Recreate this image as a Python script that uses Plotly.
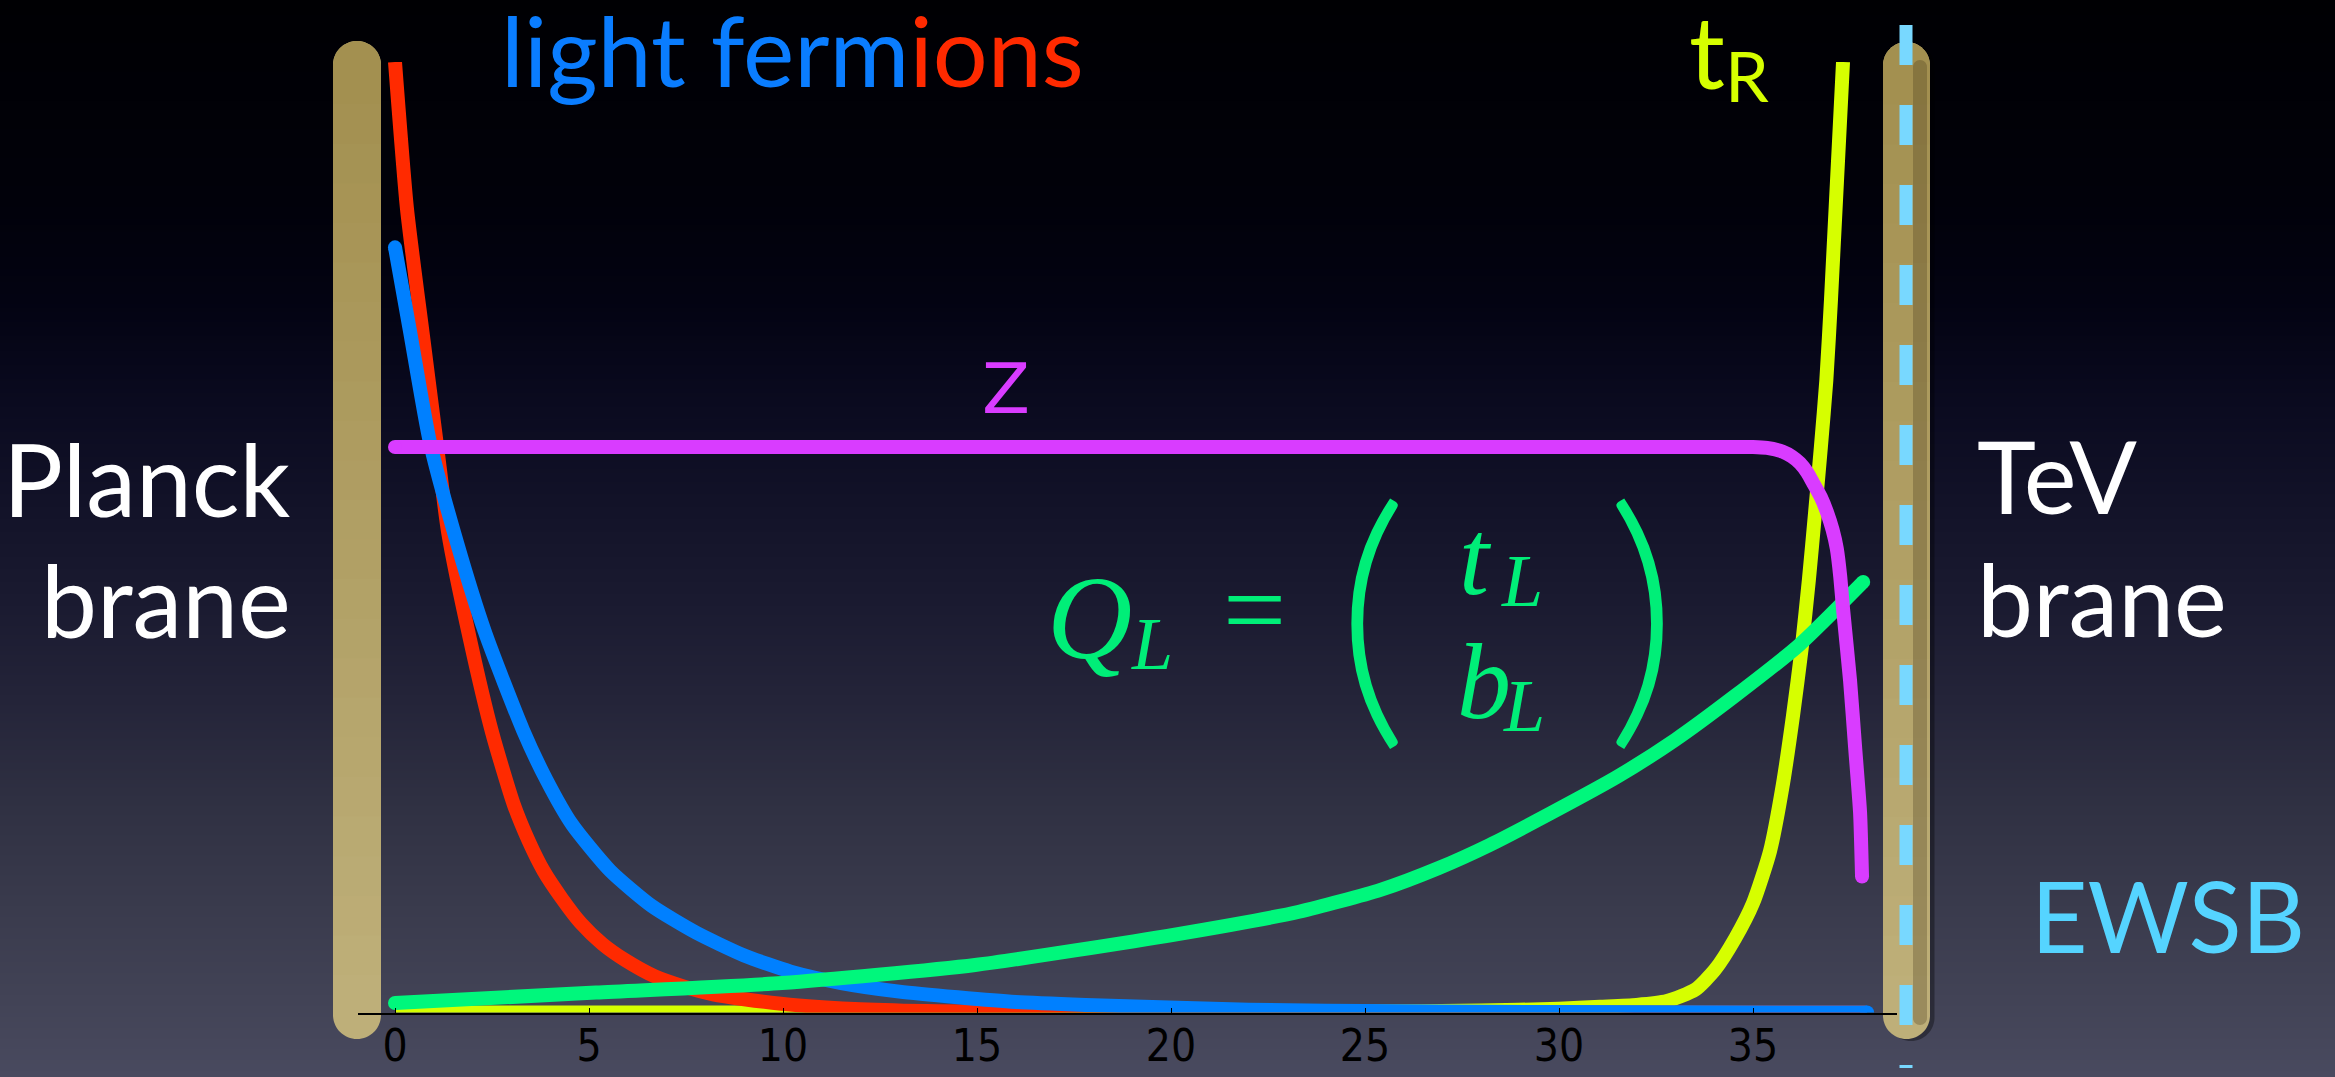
import base64
import struct
import zlib

import plotly.graph_objects as go

# ---------------------------------------------------------------------------
# Profiles along the extra dimension (x: position between the branes,
# y: normalised profile height; the plot range clips at 0 and 1)
# ---------------------------------------------------------------------------
TICKS = [0, 5, 10, 15, 20, 25, 30, 35]

red_x = [0.0, 0.31, 0.72, 1.08, 1.37, 1.93, 2.50, 3.06, 3.45, 3.83, 4.30, 4.79, 5.35, 5.94, 6.70, 7.47,
         8.20, 9.00, 10.4, 12.0, 14.0, 17.0, 22.0, 30.0, 37.9]
red_y = [1.0, 0.845, 0.712, 0.597, 0.505, 0.393, 0.295, 0.219, 0.180, 0.149, 0.120, 0.094, 0.072, 0.055, 0.038, 0.027,
         0.019, 0.014, 0.0075, 0.0035, 0.0013, 0.0003, 0.0, 0.0, 0.0]

blue_x = [0.0, 0.39, 0.90, 1.60, 2.32, 3.30, 3.90, 4.56, 5.55, 6.62, 7.76, 9.00, 10.2, 11.5, 13.0, 14.5, 16.0,
          17.8, 22.0, 26.0, 30.0, 37.94]
blue_y = [0.805, 0.716, 0.600, 0.494, 0.400, 0.297, 0.245, 0.198, 0.149, 0.112, 0.084, 0.060, 0.043, 0.031, 0.022,
          0.016, 0.011, 0.008, 0.003, 0.0012, 0.0004, 0.0]

green_x = [0.0, 5.18, 9.97, 14.95, 20.1, 23.3, 25.4, 26.9, 28.2, 29.8, 31.5, 33.0, 34.5, 36.2, 37.84]
green_y = [0.010, 0.021, 0.031, 0.050, 0.082, 0.106, 0.129, 0.152, 0.176, 0.210, 0.248, 0.287, 0.332, 0.387, 0.453]

yellow_x = [0.0, 10.0, 20.0, 25.0, 28.0, 30.0, 31.06, 32.0, 32.78, 33.51, 34.02, 34.54, 35.0, 35.44, 35.77,
            36.03, 36.26, 36.44, 36.60, 36.75, 36.89, 37.01, 37.32]
yellow_y = [0.0, 0.0, 0.0005, 0.001, 0.002, 0.004, 0.006, 0.008, 0.012, 0.024, 0.045, 0.078, 0.115, 0.170, 0.240,
            0.312, 0.385, 0.455, 0.526, 0.595, 0.665, 0.750, 1.0]

magenta_x = [0.0, 5.0, 10.0, 15.0, 20.0, 25.0, 30.0, 32.0, 33.5, 34.5, 35.0, 35.36, 35.77, 36.0, 36.21, 36.4,
             36.55, 36.75, 36.91, 37.05, 37.16, 37.25, 37.32, 37.50, 37.63, 37.76, 37.81]
magenta_y = [0.595, 0.595, 0.595, 0.595, 0.595, 0.595, 0.595, 0.595, 0.595, 0.595, 0.595, 0.594, 0.590, 0.585,
             0.578, 0.568, 0.557, 0.542, 0.526, 0.508, 0.488, 0.458, 0.425, 0.350, 0.280, 0.210, 0.143]

# ---------------------------------------------------------------------------
# Canvas geometry (pixels)
# ---------------------------------------------------------------------------
W, H = 2335, 1077
X0_PX, UNIT_PX = 395.0, 38.8          # pixel of x=0 and pixels per unit
AX_L, AX_R = 358.0, 1897.0            # horizontal extent of the axis
AX_BOTTOM, AX_TOP = 1012.5, 62.0      # y=0 and y=1 rows


def px(x):
    return x / W


def py(y):
    return 1.0 - y / H


RED = "#ff2a00"
BLUE = "#0080ff"
GREEN = "#00f77c"
YELLOW = "#d6ff00"
MAGENTA = "#d93cff"
SKY = "#78d8ff"
BRANE_TOP = (163, 144, 80)
BRANE_BOTTOM = (190, 175, 121)
LINE_W = 14

SANS = "Lato, 'Open Sans', 'DejaVu Sans', sans-serif"
SERIF = "'Liberation Serif', 'DejaVu Serif', serif"


# ---------------------------------------------------------------------------
# Background: dark vertical gradient rendered as a 1-pixel-wide PNG
# ---------------------------------------------------------------------------
def gradient_png(stops, height):
    rows = []
    for r in range(height):
        for (y0, c0), (y1, c1) in zip(stops[:-1], stops[1:]):
            if y0 <= r <= y1:
                t = (r - y0) / (y1 - y0)
                rows.append(bytes([0] + [int(round(a + (b - a) * t)) for a, b in zip(c0, c1)]))
                break
    raw = b"".join(rows)

    def chunk(tag, data):
        return struct.pack(">I", len(data)) + tag + data + struct.pack(">I", zlib.crc32(tag + data) & 0xFFFFFFFF)

    png = (b"\x89PNG\r\n\x1a\n"
           + chunk(b"IHDR", struct.pack(">IIBBBBB", 1, height, 8, 2, 0, 0, 0))
           + chunk(b"IDAT", zlib.compress(raw, 9))
           + chunk(b"IEND", b""))
    return "data:image/png;base64," + base64.b64encode(png).decode()


bg_stops = [(0, (0, 0, 3)), (200, (1, 1, 10)), (300, (3, 3, 18)), (400, (10, 10, 31)),
            (500, (18, 18, 40)), (600, (26, 26, 48)), (700, (36, 36, 57)), (800, (47, 48, 66)),
            (900, (57, 58, 76)), (1000, (66, 67, 86)), (H - 1, (73, 74, 95))]


# ---------------------------------------------------------------------------
# Figure
# ---------------------------------------------------------------------------
fig = go.Figure()


def profile(xs, ys, color, cap_start=True, cap_end=True, smoothing=0.6):
    fig.add_trace(go.Scatter(x=xs, y=ys, mode="lines", hoverinfo="skip",
                             line=dict(color=color, width=LINE_W, shape="spline", smoothing=smoothing)))
    ends_x, ends_y = [], []
    if cap_start:
        ends_x.append(xs[0]); ends_y.append(ys[0])
    if cap_end:
        ends_x.append(xs[-1]); ends_y.append(ys[-1])
    if ends_x:
        fig.add_trace(go.Scatter(x=ends_x, y=ends_y, mode="markers", hoverinfo="skip",
                                 marker=dict(color=color, size=LINE_W, line=dict(width=0))))


profile(yellow_x, yellow_y, YELLOW, cap_start=False, cap_end=False)
profile(red_x, red_y, RED, cap_start=False, cap_end=False)
profile(blue_x, blue_y, BLUE)
profile(green_x, green_y, GREEN)
profile(magenta_x, magenta_y, MAGENTA, smoothing=0.5)


# ---------------------------------------------------------------------------
# Branes (rounded bars with a soft vertical tint) and the EWSB marker
# ---------------------------------------------------------------------------
def rounded_bar(cx, top, bottom, w):
    r = w / 2.0
    k = 0.5523 * r
    pts = [
        ("M", [(cx - r, top + r)]),
        ("C", [(cx - r, top + r - k), (cx - k, top), (cx, top)]),
        ("C", [(cx + k, top), (cx + r, top + r - k), (cx + r, top + r)]),
        ("L", [(cx + r, bottom - r)]),
        ("C", [(cx + r, bottom - r + k), (cx + k, bottom), (cx, bottom)]),
        ("C", [(cx - k, bottom), (cx - r, bottom - r + k), (cx - r, bottom - r)]),
    ]
    s = ""
    for cmd, plist in pts:
        s += cmd + " " + " ".join(f"{px(a):.6f},{py(b):.6f}" for a, b in plist) + " "
    return s + "Z"


def rgb(c):
    return "rgb(%d,%d,%d)" % tuple(int(round(v)) for v in c)


def brane(cx, top, bottom, w, slices=24):
    """Rounded bar filled with the bottom tint, then darkened towards the top in thin bands."""
    out = [dict(type="path", xref="paper", yref="paper", layer="below", path=rounded_bar(cx, top, bottom, w),
                fillcolor=rgb(BRANE_BOTTOM), line=dict(width=0))]
    r = w / 2.0
    # top cap in the top tint
    out.append(dict(type="path", xref="paper", yref="paper", layer="below",
                    path=rounded_bar(cx, top, top + w + 2, w), fillcolor=rgb(BRANE_TOP), line=dict(width=0)))
    y_start, y_end = top + r, bottom - r
    step = (y_end - y_start) / slices
    for i in range(slices):
        t = i / (slices - 1)
        col = [a + (b - a) * t for a, b in zip(BRANE_TOP, BRANE_BOTTOM)]
        y0 = y_start + i * step
        out.append(dict(type="rect", xref="paper", yref="paper", layer="below",
                        x0=px(cx - r), x1=px(cx + r), y0=py(y0 - 0.5), y1=py(y0 + step + 1.0),
                        fillcolor=rgb(col), line=dict(width=0)))
    return out


shapes = []
shapes += brane(357, 41, 1039, 48)
shapes.append(dict(type="path", xref="paper", yref="paper", layer="below", path=rounded_bar(1911, 44, 1041, 47),
                   fillcolor="rgba(0,0,0,0.35)", line=dict(width=0)))
shapes += brane(1906.5, 42, 1039, 47)
shapes.append(dict(type="path", xref="paper", yref="paper", layer="below", path=rounded_bar(1920, 60, 1025, 14),
                   fillcolor="rgba(60,48,20,0.28)", line=dict(width=0)))
shapes.append(dict(type="line", xref="paper", yref="paper", layer="above",
                   x0=px(1906), x1=px(1906), y0=py(25), y1=py(1068),
                   line=dict(color=SKY, width=13, dash="40px,40px")))


# ---------------------------------------------------------------------------
# Labels
# ---------------------------------------------------------------------------
annotations = []


def label(text, x, baseline, size, color, family=SANS, xanchor="left", k=0.387, style="normal", weight=400):
    annotations.append(dict(
        text=text, xref="paper", yref="paper", x=px(x), y=py(baseline - k * size),
        xanchor=xanchor, yanchor="middle", showarrow=False, borderpad=0,
        font=dict(family=family, size=size, color=color, style=style, weight=weight)))


label(f"light ferm<span style='color:{RED}'>ions</span>", 500, 87, 97, "#0a7dff")
label("Planck", 292, 517, 100, "#ffffff", xanchor="right")
label("brane", 292, 638, 100, "#ffffff", xanchor="right")
label("TeV", 1976, 514, 100, "#ffffff")
label("brane", 1976, 637, 100, "#ffffff")
label("EWSB", 2030, 953, 98, "#55d4ff")
label("Z", 981, 414, 70, MAGENTA, family="'DejaVu Sans', sans-serif", k=0.364)
label("t", 1688, 89, 100, YELLOW)
label("R", 1724, 102, 70, YELLOW)

# Q_L = (t_L, b_L)
FG = "#00ee78"
KS = 0.28
label("Q", 1046, 652, 118, FG, family=SERIF, k=KS, style="italic")
label("L", 1130, 665, 74, FG, family=SERIF, k=KS, style="italic")
label("=", 1222, 640, 112, FG, family=SERIF, k=KS)
label("t", 1458, 588, 108, FG, family=SERIF, k=KS, style="italic")
label("L", 1500, 602, 74, FG, family=SERIF, k=KS, style="italic")
label("b", 1456, 712, 108, FG, family=SERIF, k=KS, style="italic")
label("L", 1502, 727, 74, FG, family=SERIF, k=KS, style="italic")
label("(", 1372, 712, 280, FG, family=SANS, xanchor="center", weight=300)
label(")", 1642, 712, 280, FG, family=SANS, xanchor="center", weight=300)


fig.update_layout(
    width=W, height=H, autosize=False,
    margin=dict(l=0, r=0, t=0, b=0, pad=0),
    paper_bgcolor="#000000", plot_bgcolor="rgba(0,0,0,0)",
    showlegend=False,
    images=[dict(source=gradient_png(bg_stops, H), xref="paper", yref="paper", x=0, y=1,
                 sizex=1, sizey=1, xanchor="left", yanchor="top", sizing="stretch", layer="below")],
    shapes=shapes,
    annotations=annotations,
    xaxis=dict(
        domain=[px(AX_L), px(AX_R)],
        range=[(AX_L - X0_PX) / UNIT_PX, (AX_R - X0_PX) / UNIT_PX],
        automargin=False,
        showline=True, linecolor="#000000", linewidth=1.5,
        ticks="inside", ticklen=5, tickwidth=1, tickcolor="#000000",
        tickvals=TICKS, ticktext=[str(t) for t in TICKS],
        tickfont=dict(family="'Liberation Sans Narrow', 'DejaVu Sans Condensed', 'DejaVu Sans', sans-serif",
                      size=44, color="#000000"),
        ticklabelstandoff=-6,
        showgrid=False, zeroline=False, fixedrange=True,
    ),
    yaxis=dict(
        domain=[py(AX_BOTTOM), py(AX_TOP)],
        range=[0, 1], visible=False, fixedrange=True, automargin=False,
    ),
)

fig.write_html("out.html")
